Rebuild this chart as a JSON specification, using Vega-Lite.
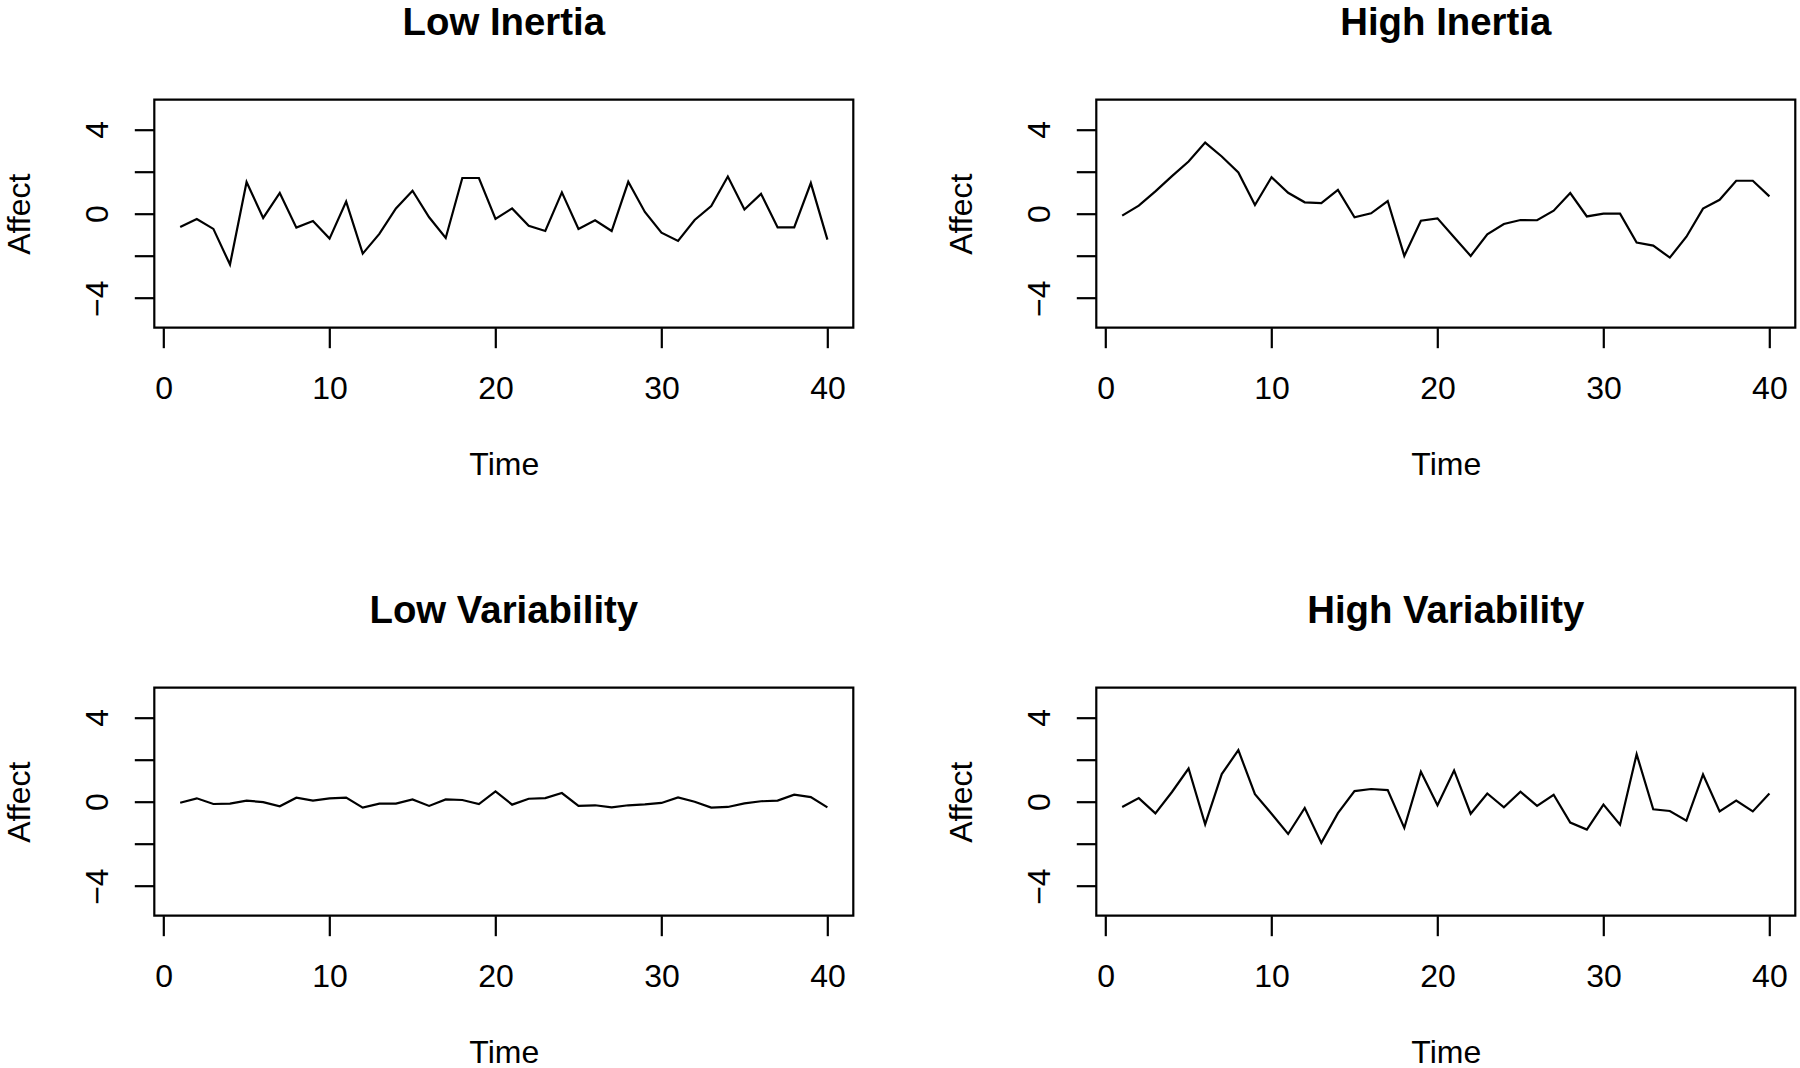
{
  "$schema": "https://vega.github.io/schema/vega-lite/v6.json",
  "background": "white",
  "autosize": {"type": "pad"},
  "padding": {"left": 2.3, "top": 2.7, "right": 0, "bottom": 0},
  "data": {"values": [
    {"panel":"Low Inertia","time":1,"affect":-0.63},{"panel":"Low Inertia","time":2,"affect":-0.25},{"panel":"Low Inertia","time":3,"affect":-0.72},{"panel":"Low Inertia","time":4,"affect":-2.41},{"panel":"Low Inertia","time":5,"affect":1.50},{"panel":"Low Inertia","time":6,"affect":-0.20},{"panel":"Low Inertia","time":7,"affect":0.98},{"panel":"Low Inertia","time":8,"affect":-0.66},{"panel":"Low Inertia","time":9,"affect":-0.35},{"panel":"Low Inertia","time":10,"affect":-1.18},
    {"panel":"Low Inertia","time":11,"affect":0.57},{"panel":"Low Inertia","time":12,"affect":-1.89},{"panel":"Low Inertia","time":13,"affect":-0.96},{"panel":"Low Inertia","time":14,"affect":0.25},{"panel":"Low Inertia","time":15,"affect":1.09},{"panel":"Low Inertia","time":16,"affect":-0.17},{"panel":"Low Inertia","time":17,"affect":-1.15},{"panel":"Low Inertia","time":18,"affect":1.69},{"panel":"Low Inertia","time":19,"affect":1.69},{"panel":"Low Inertia","time":20,"affect":-0.25},
    {"panel":"Low Inertia","time":21,"affect":0.25},{"panel":"Low Inertia","time":22,"affect":-0.57},{"panel":"Low Inertia","time":23,"affect":-0.82},{"panel":"Low Inertia","time":24,"affect":1.01},{"panel":"Low Inertia","time":25,"affect":-0.72},{"panel":"Low Inertia","time":26,"affect":-0.31},{"panel":"Low Inertia","time":27,"affect":-0.82},{"panel":"Low Inertia","time":28,"affect":1.51},{"panel":"Low Inertia","time":29,"affect":0.08},{"panel":"Low Inertia","time":30,"affect":-0.90},
    {"panel":"Low Inertia","time":31,"affect":-1.29},{"panel":"Low Inertia","time":32,"affect":-0.30},{"panel":"Low Inertia","time":33,"affect":0.36},{"panel":"Low Inertia","time":34,"affect":1.76},{"panel":"Low Inertia","time":35,"affect":0.20},{"panel":"Low Inertia","time":36,"affect":0.94},{"panel":"Low Inertia","time":37,"affect":-0.65},{"panel":"Low Inertia","time":38,"affect":-0.65},{"panel":"Low Inertia","time":39,"affect":1.45},{"panel":"Low Inertia","time":40,"affect":-1.23},

    {"panel":"High Inertia","time":1,"affect":-0.09},{"panel":"High Inertia","time":2,"affect":0.38},{"panel":"High Inertia","time":3,"affect":1.06},{"panel":"High Inertia","time":4,"affect":1.78},{"panel":"High Inertia","time":5,"affect":2.47},{"panel":"High Inertia","time":6,"affect":3.37},{"panel":"High Inertia","time":7,"affect":2.71},{"panel":"High Inertia","time":8,"affect":1.95},{"panel":"High Inertia","time":9,"affect":0.41},{"panel":"High Inertia","time":10,"affect":1.73},
    {"panel":"High Inertia","time":11,"affect":0.99},{"panel":"High Inertia","time":12,"affect":0.54},{"panel":"High Inertia","time":13,"affect":0.50},{"panel":"High Inertia","time":14,"affect":1.13},{"panel":"High Inertia","time":15,"affect":-0.17},{"panel":"High Inertia","time":16,"affect":0.02},{"panel":"High Inertia","time":17,"affect":0.60},{"panel":"High Inertia","time":18,"affect":-2.00},{"panel":"High Inertia","time":19,"affect":-0.33},{"panel":"High Inertia","time":20,"affect":-0.22},
    {"panel":"High Inertia","time":21,"affect":-1.12},{"panel":"High Inertia","time":22,"affect":-2.00},{"panel":"High Inertia","time":23,"affect":-0.98},{"panel":"High Inertia","time":24,"affect":-0.49},{"panel":"High Inertia","time":25,"affect":-0.30},{"panel":"High Inertia","time":26,"affect":-0.31},{"panel":"High Inertia","time":27,"affect":0.14},{"panel":"High Inertia","time":28,"affect":0.98},{"panel":"High Inertia","time":29,"affect":-0.13},{"panel":"High Inertia","time":30,"affect":0.00},
    {"panel":"High Inertia","time":31,"affect":0.00},{"panel":"High Inertia","time":32,"affect":-1.37},{"panel":"High Inertia","time":33,"affect":-1.51},{"panel":"High Inertia","time":34,"affect":-2.08},{"panel":"High Inertia","time":35,"affect":-1.09},{"panel":"High Inertia","time":36,"affect":0.24},{"panel":"High Inertia","time":37,"affect":0.66},{"panel":"High Inertia","time":38,"affect":1.56},{"panel":"High Inertia","time":39,"affect":1.56},{"panel":"High Inertia","time":40,"affect":0.82},

    {"panel":"Low Variability","time":1,"affect":-0.05},{"panel":"Low Variability","time":2,"affect":0.16},{"panel":"Low Variability","time":3,"affect":-0.11},{"panel":"Low Variability","time":4,"affect":-0.09},{"panel":"Low Variability","time":5,"affect":0.05},{"panel":"Low Variability","time":6,"affect":-0.02},{"panel":"Low Variability","time":7,"affect":-0.22},{"panel":"Low Variability","time":8,"affect":0.19},{"panel":"Low Variability","time":9,"affect":0.05},{"panel":"Low Variability","time":10,"affect":0.16},
    {"panel":"Low Variability","time":11,"affect":0.19},{"panel":"Low Variability","time":12,"affect":-0.28},{"panel":"Low Variability","time":13,"affect":-0.09},{"panel":"Low Variability","time":14,"affect":-0.09},{"panel":"Low Variability","time":15,"affect":0.11},{"panel":"Low Variability","time":16,"affect":-0.20},{"panel":"Low Variability","time":17,"affect":0.11},{"panel":"Low Variability","time":18,"affect":0.08},{"panel":"Low Variability","time":19,"affect":-0.11},{"panel":"Low Variability","time":20,"affect":0.49},
    {"panel":"Low Variability","time":21,"affect":-0.14},{"panel":"Low Variability","time":22,"affect":0.14},{"panel":"Low Variability","time":23,"affect":0.17},{"panel":"Low Variability","time":24,"affect":0.41},{"panel":"Low Variability","time":25,"affect":-0.20},{"panel":"Low Variability","time":26,"affect":-0.17},{"panel":"Low Variability","time":27,"affect":-0.27},{"panel":"Low Variability","time":28,"affect":-0.17},{"panel":"Low Variability","time":29,"affect":-0.13},{"panel":"Low Variability","time":30,"affect":-0.06},
    {"panel":"Low Variability","time":31,"affect":0.20},{"panel":"Low Variability","time":32,"affect":0.00},{"panel":"Low Variability","time":33,"affect":-0.28},{"panel":"Low Variability","time":34,"affect":-0.25},{"panel":"Low Variability","time":35,"affect":-0.08},{"panel":"Low Variability","time":36,"affect":0.02},{"panel":"Low Variability","time":37,"affect":0.05},{"panel":"Low Variability","time":38,"affect":0.33},{"panel":"Low Variability","time":39,"affect":0.22},{"panel":"Low Variability","time":40,"affect":-0.27},

    {"panel":"High Variability","time":1,"affect":-0.25},{"panel":"High Variability","time":2,"affect":0.17},{"panel":"High Variability","time":3,"affect":-0.55},{"panel":"High Variability","time":4,"affect":0.46},{"panel":"High Variability","time":5,"affect":1.57},{"panel":"High Variability","time":6,"affect":-1.07},{"panel":"High Variability","time":7,"affect":1.31},{"panel":"High Variability","time":8,"affect":2.44},{"panel":"High Variability","time":9,"affect":0.36},{"panel":"High Variability","time":10,"affect":-0.57},
    {"panel":"High Variability","time":11,"affect":-1.53},{"panel":"High Variability","time":12,"affect":-0.30},{"panel":"High Variability","time":13,"affect":-1.95},{"panel":"High Variability","time":14,"affect":-0.54},{"panel":"High Variability","time":15,"affect":0.50},{"panel":"High Variability","time":16,"affect":0.60},{"panel":"High Variability","time":17,"affect":0.55},{"panel":"High Variability","time":18,"affect":-1.24},{"panel":"High Variability","time":19,"affect":1.42},{"panel":"High Variability","time":20,"affect":-0.17},
    {"panel":"High Variability","time":21,"affect":1.48},{"panel":"High Variability","time":22,"affect":-0.57},{"panel":"High Variability","time":23,"affect":0.39},{"panel":"High Variability","time":24,"affect":-0.27},{"panel":"High Variability","time":25,"affect":0.47},{"panel":"High Variability","time":26,"affect":-0.20},{"panel":"High Variability","time":27,"affect":0.33},{"panel":"High Variability","time":28,"affect":-0.99},{"panel":"High Variability","time":29,"affect":-1.32},{"panel":"High Variability","time":30,"affect":-0.14},
    {"panel":"High Variability","time":31,"affect":-1.09},{"panel":"High Variability","time":32,"affect":2.25},{"panel":"High Variability","time":33,"affect":-0.36},{"panel":"High Variability","time":34,"affect":-0.44},{"panel":"High Variability","time":35,"affect":-0.90},{"panel":"High Variability","time":36,"affect":1.29},{"panel":"High Variability","time":37,"affect":-0.46},{"panel":"High Variability","time":38,"affect":0.05},{"panel":"High Variability","time":39,"affect":-0.46},{"panel":"High Variability","time":40,"affect":0.39}
  ]},
  "columns": 2,
  "bounds": "flush",
  "spacing": {"column": 243, "row": 360},
  "concat": [
    {
      "title": "Low Inertia", "width": 699, "height": 228,
      "transform": [{"filter": "datum.panel === 'Low Inertia'"}],
      "mark": {"type": "line", "color": "black", "strokeWidth": 2.2},
      "encoding": {
        "x": {"field": "time", "type": "quantitative", "title": "Time", "scale": {"domain": [-0.56, 41.56], "nice": false, "zero": false}, "axis": {"values": [0, 10, 20, 30, 40]}},
        "y": {"field": "affect", "type": "quantitative", "title": "Affect", "scale": {"domain": [-5.4, 5.4], "nice": false, "zero": false}, "axis": {"values": [-4, -2, 0, 2, 4]}}
      }
    },
    {
      "title": "High Inertia", "width": 699, "height": 228,
      "transform": [{"filter": "datum.panel === 'High Inertia'"}],
      "mark": {"type": "line", "color": "black", "strokeWidth": 2.2},
      "encoding": {
        "x": {"field": "time", "type": "quantitative", "title": "Time", "scale": {"domain": [-0.56, 41.56], "nice": false, "zero": false}, "axis": {"values": [0, 10, 20, 30, 40]}},
        "y": {"field": "affect", "type": "quantitative", "title": "Affect", "scale": {"domain": [-5.4, 5.4], "nice": false, "zero": false}, "axis": {"values": [-4, -2, 0, 2, 4]}}
      }
    },
    {
      "title": "Low Variability", "width": 699, "height": 228,
      "transform": [{"filter": "datum.panel === 'Low Variability'"}],
      "mark": {"type": "line", "color": "black", "strokeWidth": 2.2},
      "encoding": {
        "x": {"field": "time", "type": "quantitative", "title": "Time", "scale": {"domain": [-0.56, 41.56], "nice": false, "zero": false}, "axis": {"values": [0, 10, 20, 30, 40]}},
        "y": {"field": "affect", "type": "quantitative", "title": "Affect", "scale": {"domain": [-5.4, 5.4], "nice": false, "zero": false}, "axis": {"values": [-4, -2, 0, 2, 4]}}
      }
    },
    {
      "title": "High Variability", "width": 699, "height": 228,
      "transform": [{"filter": "datum.panel === 'High Variability'"}],
      "mark": {"type": "line", "color": "black", "strokeWidth": 2.2},
      "encoding": {
        "x": {"field": "time", "type": "quantitative", "title": "Time", "scale": {"domain": [-0.56, 41.56], "nice": false, "zero": false}, "axis": {"values": [0, 10, 20, 30, 40]}},
        "y": {"field": "affect", "type": "quantitative", "title": "Affect", "scale": {"domain": [-5.4, 5.4], "nice": false, "zero": false}, "axis": {"values": [-4, -2, 0, 2, 4]}}
      }
    }
  ],
  "config": {
    "font": "Liberation Sans",
    "view": {"stroke": "black", "strokeWidth": 2.2, "fill": "white"},
    "title": {"font": "Liberation Sans", "fontSize": 38.4, "fontWeight": "bold", "color": "black", "anchor": "middle", "baseline": "alphabetic", "offset": 56},
    "axis": {
      "domain": false, "grid": false,
      "tickColor": "black", "tickWidth": 2.2, "tickSize": 20,
      "labelFont": "Liberation Sans", "labelFontSize": 32, "labelColor": "black", "labelOverlap": false,
      "titleFont": "Liberation Sans", "titleFontSize": 32, "titleFontWeight": "normal", "titleColor": "black"
    },
    "axisX": {
      "labelBaseline": "alphabetic", "labelPadding": 51, "labelFlush": false, "labelAlign": "center",
      "titleBaseline": "alphabetic", "titleY": 147
    },
    "axisY": {
      "labelExpr": "datum.value % 4 === 0 ? datum.label : ''",
      "labelAngle": -90, "labelAlign": "center", "labelBaseline": "alphabetic", "labelPadding": 26.5,
      "titleAngle": -90, "titleAlign": "center", "titleBaseline": "alphabetic", "titleX": -124.7, "titleY": 114
    }
  }
}
